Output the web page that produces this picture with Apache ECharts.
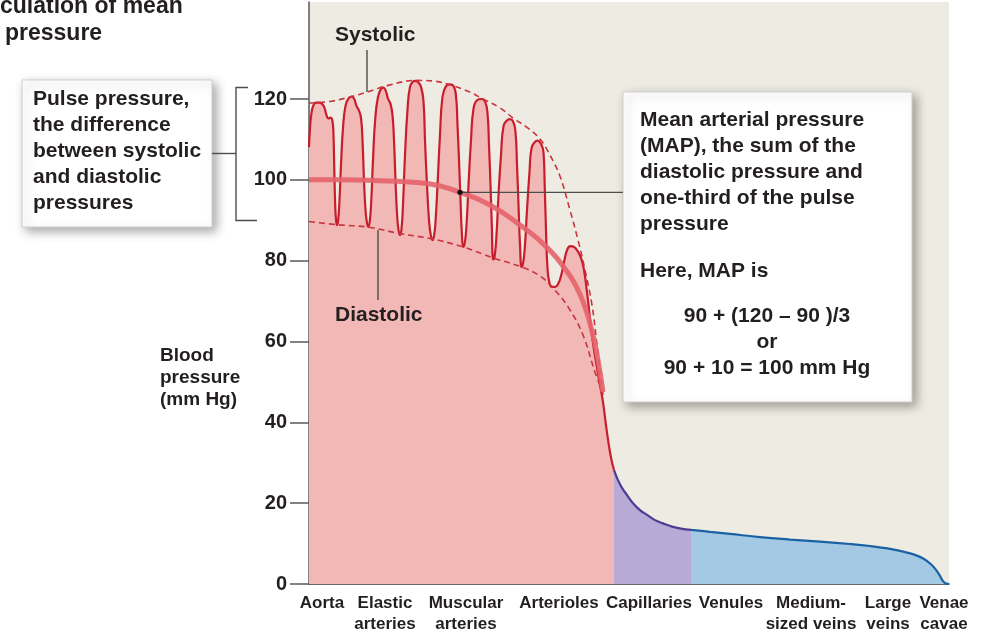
<!DOCTYPE html>
<html>
<head>
<meta charset="utf-8">
<script src="https://cdn.jsdelivr.net/npm/echarts@6/dist/echarts.min.js"></script>
<style>
  html, body { margin: 0; padding: 0; background: #ffffff; }
  #chart { width: 994px; height: 641px; }
</style>
</head>
<body>
<div id="chart"></div>
<script>
// Vessel segments along the x axis (distance along the circulation, arbitrary units 0-640)
const vesselNames = ['Aorta', 'Elastic\narteries', 'Muscular\narteries', 'Arterioles', 'Capillaries',
                     'Venules', 'Medium-\nsized veins', 'Large\nveins', 'Venae\ncavae'];
const vesselPos = [13, 76, 157, 250, 340, 422, 502, 579, 635];
const pressureTicks = [0, 20, 40, 60, 80, 100, 120];

// Reference values used in the MAP worked example (mm Hg)
const systolicRef = 120;
const diastolicRef = 90;
const mapValue = diastolicRef + (systolicRef - diastolicRef) / 3;

// Pulsatile arterial pressure, aorta through arterioles (mm Hg)
const arterialWave = [
  [0, 108.1], [1, 112.8], [2.5, 116.5], [4.5, 118.5], [7, 119.1], [10, 119.1], [13, 118.8],
  [15.5, 117.8], [17.5, 116.0], [19.5, 115.2], [21.5, 115.4], [23.5, 114.5], [24.5, 111.1],
  [25.3, 102.4], [26.2, 93.8], [27, 90.1], [28, 88.8],
  [29.2, 90.1], [30.5, 95.0], [32, 103.7], [34, 112.8], [36.5, 118.3], [39.5, 120.1], [42.5, 120.6],
  [45, 120.1], [47.5, 118.3], [50, 117.1], [52, 115.3], [53.5, 109.8], [55, 99.9], [56.5, 92.5],
  [58, 89.3], [59.3, 88.4],
  [60.8, 89.8], [62.3, 95.0], [64, 104.9], [66.3, 115.3], [69, 120.5], [72, 122.5], [74.3, 122.8],
  [76.5, 122.2], [79, 120.1], [81.5, 118.8], [83.5, 116.0], [85, 109.8], [86.5, 99.9], [88, 91.8],
  [89.5, 87.6], [91, 86.3],
  [92.5, 87.8], [94, 93.8], [96, 106.1], [98.5, 117.3], [101, 123.0], [104, 124.3], [106, 124.5],
  [108.5, 124.3], [112, 123.0], [114.5, 119.3], [116, 109.8], [118, 98.7], [120, 90.1], [121.8, 86.3],
  [123.5, 85.1],
  [125, 86.1], [126.5, 89.6], [128.5, 98.7], [131, 111.1], [133.5, 120.5], [137, 123.2], [141, 123.6],
  [144.5, 123.2], [147, 120.8], [148.5, 113.6], [150, 104.9], [151.5, 95.0], [152.8, 87.1], [154.3, 83.4],
  [155.8, 84.4], [157.5, 88.8], [159.5, 98.7], [162, 109.8], [164.5, 117.6], [168, 119.7], [172.5, 120.0],
  [176, 119.4], [178.5, 116.5], [180, 108.6], [181.5, 98.7], [182.8, 88.8], [184.3, 80.3],
  [185.8, 81.4], [187.5, 86.3], [189.5, 96.2], [192, 106.1], [194.5, 113.3], [198, 114.7], [200.5, 115.0],
  [204, 114.5], [206.5, 111.8], [208, 103.7], [209.5, 93.8], [211, 83.9], [212.7, 78.4],
  [214.3, 79.7], [216, 83.9], [218, 92.5], [220.5, 101.9], [222.5, 107.8], [226, 109.4], [228.5, 109.7],
  [231.5, 109.1], [234.5, 106.8], [235.7, 98.7], [237, 87.6], [238.5, 78.2], [240.5, 74.5], [243, 73.5],
  [246, 73.5], [249, 74.2], [252, 76.2], [255.5, 80.2], [258.5, 82.9], [261.5, 83.6], [265, 83.4],
  [268.5, 82.4], [272, 80.7], [275, 77.7], [278, 72.2], [281, 65.8], [284, 59.6], [287.5, 54.2],
  [291, 49.2], [294, 45.0], [297, 39.3], [300, 34.1], [302.5, 30.7], [305, 28.2]
];

// Capillary pressure drop (mm Hg)
const capillaryCurve = [
  [305, 28.2], [309, 25.7], [313, 23.8], [318, 22.0], [324, 20.0], [331, 18.3], [338, 17.1],
  [346, 15.8], [354, 15.0], [363, 14.2], [372, 13.7], [382, 13.4]
];

// Venous pressure, venules to venae cavae (mm Hg)
const venousCurve = [
  [382, 13.4], [401, 12.9], [421, 12.4], [451, 11.6], [481, 11.0], [511, 10.5], [541, 9.9],
  [561, 9.4], [581, 8.7], [596, 7.9], [606, 7.2], [615, 6.2], [622, 4.9], [627, 3.5],
  [631, 2.0], [634, 0.7], [637, 0.1], [640, 0]
];

// Mean arterial pressure (mm Hg)
const meanPressure = [
  [0, mapValue], [31, 100], [71, 99.8], [111, 99.3], [131, 98.5], [151, 96.9], [171, 95.0],
  [191, 92.3], [211, 88.8], [231, 84.9], [251, 79.7], [271, 71.7], [284, 61.6], [291, 52.4], [294, 47.5]
];

// Systolic and diastolic envelopes (mm Hg)
const systolicEnvelope = [
  [0, 119.0], [21, 119.4], [41, 120.5], [58, 121.7], [81, 123.5], [107, 124.6], [126, 124.4],
  [141, 123.5], [161, 121.7], [174, 120.0], [191, 117.8], [204, 115.3], [219, 112.8], [231, 110.1],
  [241, 106.1], [251, 100.9], [261, 92.5], [269, 85.1], [276, 77.7], [283, 69.0], [288, 59.1],
  [292, 50.5], [294, 46.8]
];
const diastolicEnvelope = [
  [0, 89.7], [28, 88.9], [59, 88.3], [91, 86.7], [123, 85.4], [154, 83.4], [184, 80.7], [213, 78.4],
  [231, 76.2], [246, 72.7], [261, 67.8], [274, 61.6], [286, 52.4], [291, 49.2]
];

const FONT = '"Liberation Sans", Arial, Helvetica, sans-serif';
const INK = '#231f20';
const LEADER = '#4d4d4d';

const chart = echarts.init(document.getElementById('chart'), null, { renderer: 'canvas' });

chart.setOption({
  animation: false,
  backgroundColor: '#ffffff',
  grid: {
    left: 309, right: 45, top: 2, bottom: 57,
    show: true, backgroundColor: '#eeece2', borderWidth: 0
  },
  xAxis: {
    type: 'value', min: 0, max: 640,
    splitLine: { show: false },
    axisTick: { show: false },
    axisLine: { show: true, onZero: false, lineStyle: { color: '#3a3a3a', width: 1.5 } },
    axisLabel: {
      customValues: vesselPos,
      formatter: (v) => {
        const i = vesselPos.indexOf(v);
        return i >= 0 ? vesselNames[i] : '';
      },
      margin: 9,
      color: INK, fontFamily: FONT, fontWeight: 'bold', fontSize: 17, lineHeight: 21,
      align: 'center', verticalAlign: 'top'
    }
  },
  yAxis: {
    type: 'value', min: 0, max: 144,
    splitLine: { show: false },
    axisLine: { show: true, lineStyle: { color: '#5a5a5a', width: 1.5 } },
    axisTick: { show: true, customValues: pressureTicks, length: 19, lineStyle: { color: '#5a5a5a', width: 1.5 } },
    axisLabel: {
      customValues: pressureTicks,
      margin: 22,
      color: INK, fontFamily: FONT, fontWeight: 'bold', fontSize: 20
    }
  },
  series: [
    {
      name: 'Arterial pressure', type: 'line', data: arterialWave,
      smooth: 0.5, showSymbol: false, symbol: 'none', z: 3,
      lineStyle: { color: '#c81d2c', width: 2.2 },
      areaStyle: { color: '#f1b8b6', opacity: 1 }
    },
    {
      name: 'Capillaries', type: 'line', data: capillaryCurve,
      smooth: 0.4, showSymbol: false, symbol: 'none', z: 3,
      lineStyle: { color: '#4a3d93', width: 2.2 },
      areaStyle: { color: '#b9a9d6', opacity: 1 }
    },
    {
      name: 'Veins', type: 'line', data: venousCurve,
      smooth: 0.4, showSymbol: false, symbol: 'none', z: 3,
      lineStyle: { color: '#1a62a3', width: 2.2 },
      areaStyle: { color: '#a3c9e4', opacity: 1 }
    },
    {
      name: 'Diastolic', type: 'line', data: diastolicEnvelope,
      smooth: 0.4, showSymbol: false, symbol: 'none', z: 4,
      lineStyle: { color: '#c9343e', width: 1.6, type: [6, 4] }
    },
    {
      name: 'Systolic', type: 'line', data: systolicEnvelope,
      smooth: 0.4, showSymbol: false, symbol: 'none', z: 4,
      lineStyle: { color: '#c9343e', width: 1.6, type: [6, 4] }
    },
    {
      name: 'Mean arterial pressure', type: 'line', data: meanPressure,
      smooth: 0.4, showSymbol: false, symbol: 'none', z: 5,
      lineStyle: { color: '#e4636c', width: 5, opacity: 0.9 }
    }
  ]
});

// Annotation layer: MAP dot sits on the mean-pressure curve
const mapDot = chart.convertToPixel({ gridIndex: 0 }, meanPressure[5]);

const textStyle = (txt, extra) => Object.assign({
  text: txt, fill: INK, font: 'bold 21px ' + FONT, lineHeight: 26,
  textAlign: 'left', textVerticalAlign: 'top'
}, extra || {});

const boxStyle = {
  fill: '#ffffff', stroke: '#cfcfcf', lineWidth: 1,
  shadowBlur: 10, shadowOffsetX: 4, shadowOffsetY: 4, shadowColor: 'rgba(0,0,0,0.35)'
};
const leaderStyle = { stroke: LEADER, lineWidth: 1.4, fill: null };

chart.setOption({
  graphic: [
    // heading
    { type: 'text', x: 0, y: -6, z: 100, style: textStyle('culation of mean', { font: 'bold 23px ' + FONT }) },
    { type: 'text', x: 5, y: 20.5, z: 100, style: textStyle('pressure', { font: 'bold 23px ' + FONT }) },

    // pulse pressure callout
    { type: 'rect', z: 100, shape: { x: 22, y: 80, width: 190, height: 147 }, style: boxStyle },
    { type: 'text', x: 33, y: 86.5, z: 101,
      style: textStyle('Pulse pressure,\nthe difference\nbetween systolic\nand diastolic\npressures') },
    { type: 'polyline', z: 100, shape: { points: [[248, 87.5], [236, 87.5], [236, 220.5], [257, 220.5]] }, style: leaderStyle },
    { type: 'line', z: 100, shape: { x1: 212, y1: 153.5, x2: 236, y2: 153.5 }, style: leaderStyle },

    // MAP callout
    { type: 'rect', z: 100, shape: { x: 623, y: 92, width: 289, height: 310 }, style: boxStyle },
    { type: 'text', x: 640, y: 107, z: 101,
      style: textStyle('Mean arterial pressure\n(MAP), the sum of the\ndiastolic pressure and\none-third of the pulse\npressure') },
    { type: 'text', x: 640, y: 258.5, z: 101, style: textStyle('Here, MAP is') },
    { type: 'text', x: 767, y: 303.5, z: 101,
      style: textStyle(
        diastolicRef + ' + (' + systolicRef + ' \u2013 ' + diastolicRef + ' )/3\nor\n' +
        diastolicRef + ' + ' + ((systolicRef - diastolicRef) / 3) + ' = ' + mapValue + ' mm Hg',
        { textAlign: 'center' }) },
    { type: 'line', z: 100, shape: { x1: mapDot[0], y1: mapDot[1], x2: 623, y2: mapDot[1] }, style: leaderStyle },
    { type: 'circle', z: 101, shape: { cx: mapDot[0], cy: mapDot[1], r: 2.6 }, style: { fill: '#111' } },

    // curve labels
    { type: 'text', x: 335, y: 22, z: 101, style: textStyle('Systolic') },
    { type: 'line', z: 100, shape: { x1: 367, y1: 50, x2: 367, y2: 92 }, style: leaderStyle },
    { type: 'text', x: 335, y: 302, z: 101, style: textStyle('Diastolic') },
    { type: 'line', z: 100, shape: { x1: 378, y1: 230, x2: 378, y2: 300 }, style: leaderStyle },

    // y-axis title
    { type: 'text', x: 160, y: 345, z: 101,
      style: textStyle('Blood\npressure\n(mm Hg)', { font: 'bold 19px ' + FONT, lineHeight: 22 }) }
  ]
});
</script>
</body>
</html>
